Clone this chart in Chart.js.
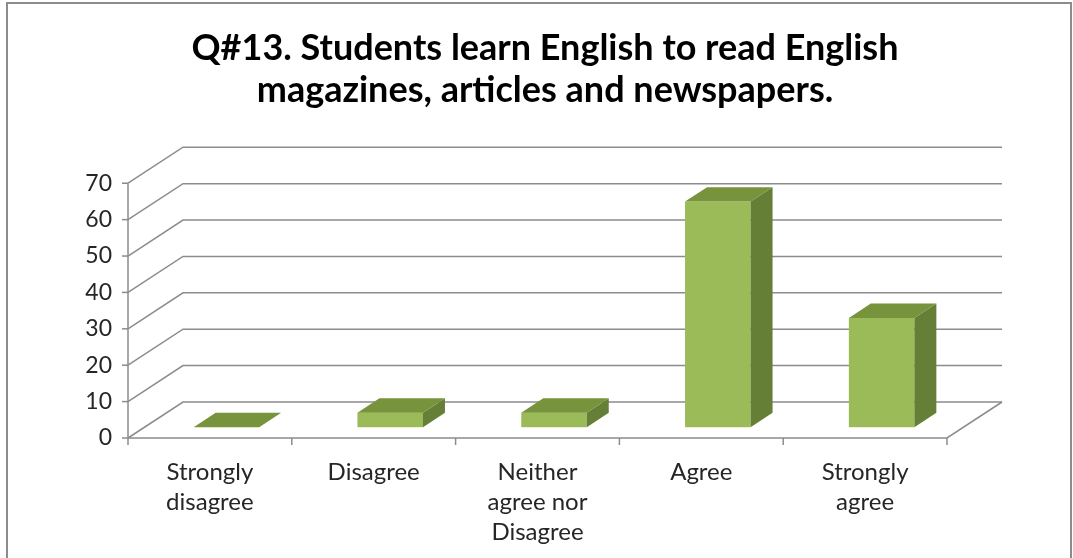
<!DOCTYPE html>
<html>
<head>
<meta charset="utf-8">
<script src="https://cdn.jsdelivr.net/npm/chart.js@4.4.1/dist/chart.umd.min.js"></script>
<style>
  body { margin: 0; background: #fff; }
  #frame { position: absolute; left: 6px; top: 2px; width: 1062px; height: 600px; border: 2px solid #8c8c8c; }
  #wrap { position: absolute; left: 0; top: 0; width: 1073px; height: 558px; }
</style>
</head>
<body>
<div id="frame"></div>
<div id="wrap"><canvas id="chart" width="1073" height="558"></canvas></div>
<script>
const titleLines = ['Q#13. Students learn English to read English', 'magazines, articles and newspapers.'];
const categories = [['Strongly', 'disagree'], ['Disagree'], ['Neither', 'agree nor', 'Disagree'], ['Agree'], ['Strongly', 'agree']];
const values = [0, 4, 4, 62, 30];
const yMin = 0;
const yMax = 70;
const yStep = 10;

// depth of the 3d box, and where the bars sit inside it
const DEPTH_X = 55;
const DEPTH_Y = -36;
const BAR_FRONT = 0.3;
const BAR_BACK = 0.7;
const GRID = '#8c8c8c';

const threeD = {
  id: 'threeD',
  afterDatasetsDraw(chart) {
    const ctx = chart.ctx;
    const ys = chart.scales.y;
    const left = chart.chartArea.left;
    const right = chart.chartArea.right;
    const bottom = ys.getPixelForValue(yMin);

    ctx.save();
    ctx.strokeStyle = GRID;
    ctx.lineWidth = 1.5;

    // back wall gridlines, each with its side wall diagonal
    for (let v = yMin; v <= yMax; v += yStep) {
      const y = ys.getPixelForValue(v);
      ctx.beginPath();
      ctx.moveTo(left, y);
      ctx.lineTo(left + DEPTH_X, y + DEPTH_Y);
      ctx.lineTo(right + DEPTH_X, y + DEPTH_Y);
      ctx.stroke();
      // tick mark on the y axis
      ctx.beginPath();
      ctx.moveTo(left - 6, y);
      ctx.lineTo(left, y);
      ctx.stroke();
    }

    // floor front edge and right edge
    ctx.beginPath();
    ctx.moveTo(left, ys.getPixelForValue(yMax));
    ctx.lineTo(left, bottom);
    ctx.lineTo(right, bottom);
    ctx.lineTo(right + DEPTH_X, bottom + DEPTH_Y);
    ctx.stroke();

    // x tick marks between categories
    const step = (right - left) / categories.length;
    for (let i = 0; i <= categories.length; i++) {
      const x = left + i * step;
      ctx.beginPath();
      ctx.moveTo(x, bottom);
      ctx.lineTo(x, bottom + 7);
      ctx.stroke();
    }

    // bars
    const meta = chart.getDatasetMeta(0);
    const fx = BAR_FRONT * DEPTH_X, fy = BAR_FRONT * DEPTH_Y;
    const bx = BAR_BACK * DEPTH_X, by = BAR_BACK * DEPTH_Y;
    meta.data.forEach((bar) => {
      const p = bar.getProps(['x', 'y', 'base', 'width'], true);
      const xl = p.x - p.width / 2;
      const xr = p.x + p.width / 2;
      const top = p.y;
      const base = p.base;

      if (base - top > 0.5) {
        ctx.fillStyle = '#9bbb59';
        ctx.fillRect(xl + fx, top + fy, p.width, base - top);

        ctx.fillStyle = '#667f37';
        ctx.beginPath();
        ctx.moveTo(xr + fx, top + fy);
        ctx.lineTo(xr + bx, top + by);
        ctx.lineTo(xr + bx, base + by);
        ctx.lineTo(xr + fx, base + fy);
        ctx.closePath();
        ctx.fill();
      }

      ctx.fillStyle = '#77933c';
      ctx.beginPath();
      ctx.moveTo(xl + fx, top + fy);
      ctx.lineTo(xr + fx, top + fy);
      ctx.lineTo(xr + bx, top + by);
      ctx.lineTo(xl + bx, top + by);
      ctx.closePath();
      ctx.fill();
    });

    ctx.restore();
  }
};

new Chart(document.getElementById('chart'), {
  type: 'bar',
  data: {
    labels: categories,
    datasets: [{
      data: values,
      backgroundColor: 'rgba(0,0,0,0)',
      barPercentage: 0.8,
      categoryPercentage: 0.5
    }]
  },
  options: {
    responsive: false,
    animation: false,
    layout: { padding: { left: 17, right: 0, top: 0, bottom: 0 } },
    plugins: {
      legend: { display: false },
      tooltip: { enabled: false },
      title: {
        display: true,
        text: titleLines,
        color: '#000',
        font: { family: 'Lato', size: 36, weight: 'bold', lineHeight: 1.17 },
        padding: { top: 27, bottom: 72 }
      }
    },
    scales: {
      x: {
        grid: { display: false },
        border: { display: false },
        ticks: {
          color: '#262626',
          font: { family: 'Lato', size: 24, lineHeight: 1.25 },
          padding: 11,
          maxRotation: 0,
          autoSkip: false
        },
        afterFit(scale) { scale.height = 120; }
      },
      y: {
        min: yMin,
        max: yMax,
        grid: { display: false },
        border: { display: false },
        ticks: {
          stepSize: yStep,
          color: '#262626',
          font: { family: 'Lato', size: 23 },
          padding: 8
        },
        afterFit(scale) { scale.width = 111; }
      },
      // empty axis that only keeps the space on the right of the plot
      spacer: {
        type: 'linear',
        position: 'right',
        display: true,
        grid: { display: false },
        border: { display: false },
        ticks: { display: false },
        afterFit(scale) { scale.width = 126; }
      }
    }
  },
  plugins: [threeD]
});
</script>
</body>
</html>
